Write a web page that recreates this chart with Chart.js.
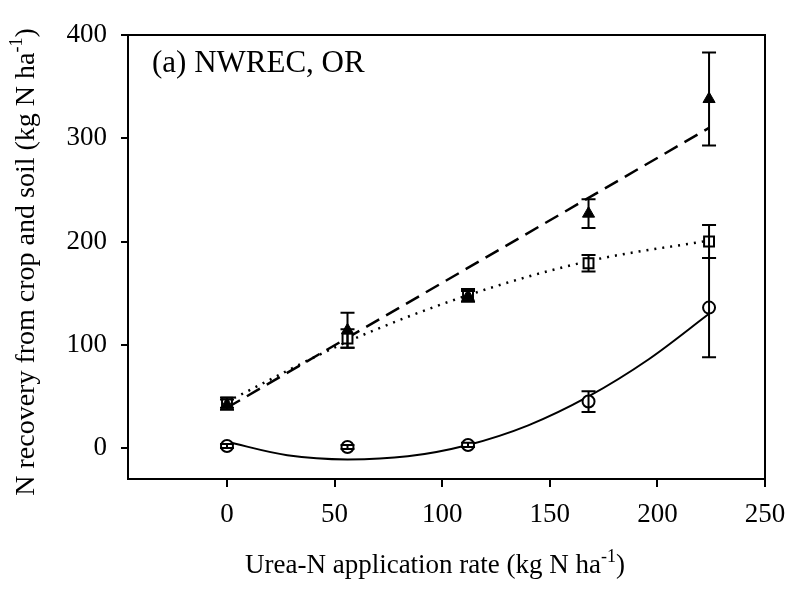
<!DOCTYPE html>
<html>
<head>
<meta charset="UTF-8">
<title>N recovery</title>
<script src="https://cdn.jsdelivr.net/npm/chart.js@4.4.0/dist/chart.umd.min.js"></script>
<style>
    body { margin: 0; background: #fff; }
    #wrap { position: relative; width: 787px; height: 591px; }
</style>
</head>
<body>
<div id="wrap"><canvas id="recoveryChart"></canvas></div>
<script>
// urea-N application rates, kg N/ha
var rates = [0, 56, 112, 168, 224];

// measured recovery (mean) and half-length of the error bars
var triMean = [42, 114, 147, 227, 338];
var triErr = [5, 17, 5, 14, 45];
var sqMean = [44, 106, 148, 179, 200];
var sqErr = [5, 9, 6, 8, 16];
var circMean = [2, 1, 3, 45, 136];
var circErr = [2, 2, 2, 10, 48];

// fitted lines
var linFitX = [0, 224];
var linFitY = [39, 310];
var dotFitX = [0, 56, 112, 168, 224];
var dotFitY = [45, 103, 148, 181, 201];
var solFitX = [0, 28, 56, 84, 112, 140, 168, 196, 224];
var solFitY = [6, -7, -11, -8, 3, 22, 50, 86, 130];

var xTicks = [0, 50, 100, 150, 200, 250];
var yTicks = [0, 100, 200, 300, 400];

var SERIF = "'Liberation Serif', 'Times New Roman', serif";

function pts(xs, ys) {
    return xs.map(function (x, i) { return { x: x, y: ys[i] }; });
}

var errorBars = {
    id: 'errorBars',
    afterDatasetsDraw: function (chart) {
        var ctx = chart.ctx, xs = chart.scales.x, ys = chart.scales.y;
        ctx.save();
        ctx.strokeStyle = '#000';
        ctx.lineWidth = 2;
        chart.data.datasets.forEach(function (ds) {
            if (!ds.errors) return;
            ds.data.forEach(function (p, i) {
                var e = ds.errors[i];
                var px = xs.getPixelForValue(p.x);
                var top = ys.getPixelForValue(p.y + e);
                var bot = ys.getPixelForValue(p.y - e);
                ctx.beginPath();
                ctx.moveTo(px, top); ctx.lineTo(px, bot);
                ctx.moveTo(px - 7, top); ctx.lineTo(px + 7, top);
                ctx.moveTo(px - 7, bot); ctx.lineTo(px + 7, bot);
                ctx.stroke();
            });
        });
        ctx.restore();
    }
};

// text with a "-1" superscript before the closing bracket
function supText(ctx, main, sup, tail, size, x, y) {
    var big = size + 'px ' + SERIF, small = Math.round(size * 0.65) + 'px ' + SERIF;
    ctx.font = big; var w1 = ctx.measureText(main).width, w3 = ctx.measureText(tail).width;
    ctx.font = small; var w2 = ctx.measureText(sup).width;
    var sx = x - (w1 + w2 + w3) / 2;
    ctx.textAlign = 'left';
    ctx.textBaseline = 'alphabetic';
    ctx.font = big; ctx.fillText(main, sx, y);
    ctx.font = small; ctx.fillText(sup, sx + w1, y - size * 0.42);
    ctx.font = big; ctx.fillText(tail, sx + w1 + w2, y);
}

var frameAndText = {
    id: 'frameAndText',
    afterDraw: function (chart) {
        var ctx = chart.ctx, a = chart.chartArea;
        ctx.save();
        ctx.strokeStyle = '#000';
        ctx.lineWidth = 2;
        ctx.strokeRect(a.left, a.top, a.right - a.left, a.bottom - a.top);
        ctx.fillStyle = '#000';

        ctx.font = '31px ' + SERIF;
        ctx.textAlign = 'left';
        ctx.textBaseline = 'alphabetic';
        ctx.fillText('(a) NWREC, OR', a.left + 24, a.top + 37);

        supText(ctx, 'Urea-N application rate (kg N ha', '-1', ')', 27, 435, 573);

        ctx.translate(34, 262);
        ctx.rotate(-Math.PI / 2);
        supText(ctx, 'N recovery from crop and soil (kg N ha', '-1', ')', 28, 0, 0);
        ctx.restore();
    }
};

var tickFont = { family: SERIF, size: 27 };

new Chart(document.getElementById('recoveryChart'), {
    type: 'scatter',
    data: {
        datasets: [
            { data: pts(rates, triMean), errors: triErr, pointStyle: 'triangle', pointRadius: 7,
              backgroundColor: '#000', borderColor: '#000', borderWidth: 1 },
            { data: pts(rates, sqMean), errors: sqErr, pointStyle: 'rect', pointRadius: 7,
              backgroundColor: '#fff', borderColor: '#000', borderWidth: 2 },
            { data: pts(rates, circMean), errors: circErr, pointStyle: 'circle', pointRadius: 6,
              backgroundColor: '#fff', borderColor: '#000', borderWidth: 2 },
            { data: pts(linFitX, linFitY), showLine: true, pointRadius: 0, borderColor: '#000',
              borderWidth: 2.5, borderDash: [15, 8] },
            { data: pts(dotFitX, dotFitY), showLine: true, pointRadius: 0, borderColor: '#000',
              borderWidth: 2.5, borderDash: [2, 6], cubicInterpolationMode: 'monotone' },
            { data: pts(solFitX, solFitY), showLine: true, pointRadius: 0, borderColor: '#000',
              borderWidth: 2, cubicInterpolationMode: 'monotone' }
        ]
    },
    options: {
        responsive: true,
        maintainAspectRatio: false,
        animation: false,
        layout: { padding: { top: 35, right: 22, left: 0, bottom: 0 } },
        plugins: { legend: { display: false }, tooltip: { enabled: false } },
        scales: {
            x: {
                type: 'linear', min: -46, max: 250,
                grid: { drawOnChartArea: false, tickLength: 8, color: '#000', lineWidth: 2 },
                border: { display: false },
                ticks: { color: '#000', font: tickFont, padding: 12 },
                afterBuildTicks: function (s) { s.ticks = xTicks.map(function (v) { return { value: v }; }); },
                afterFit: function (s) { s.height = 112; s.paddingRight = 0; s.paddingLeft = 0; }
            },
            y: {
                type: 'linear', min: -30, max: 400,
                grid: { drawOnChartArea: false, tickLength: 7, color: '#000', lineWidth: 2 },
                border: { display: false },
                ticks: { color: '#000', font: tickFont, padding: 14 },
                afterBuildTicks: function (s) { s.ticks = yTicks.map(function (v) { return { value: v }; }); },
                afterFit: function (s) { s.width = 128; s.paddingTop = 0; s.paddingBottom = 0; }
            }
        }
    },
    plugins: [errorBars, frameAndText]
});
</script>
</body>
</html>
